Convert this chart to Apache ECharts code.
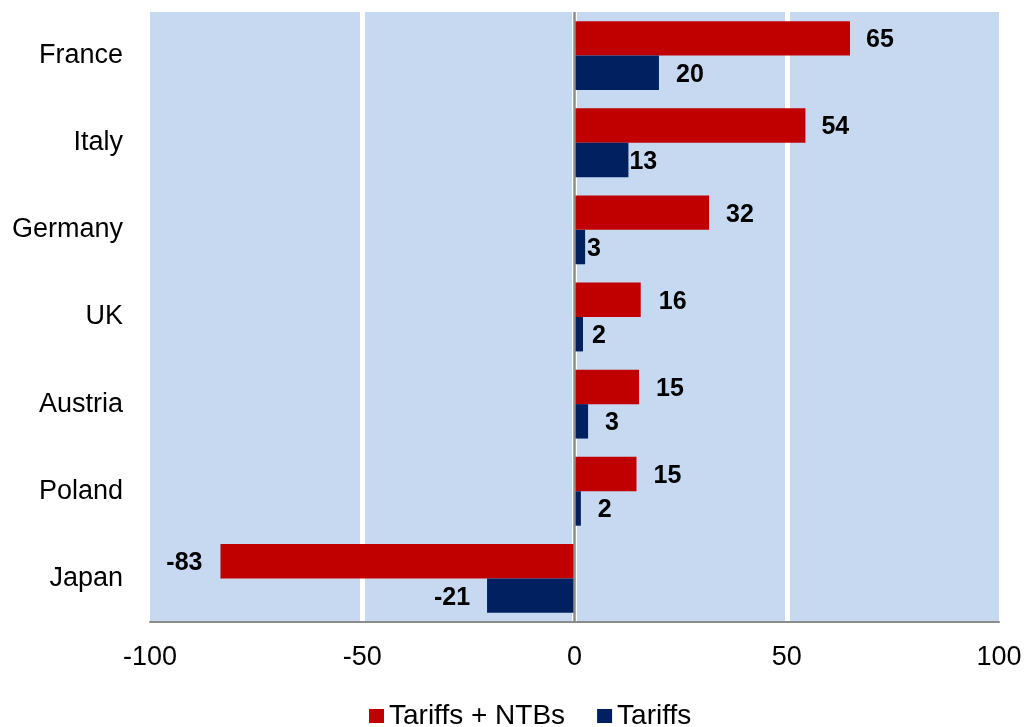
<!DOCTYPE html>
<html>
<head>
<meta charset="utf-8">
<script src="https://cdn.jsdelivr.net/npm/echarts@6/dist/echarts.min.js"></script>
<style>
  html, body { margin: 0; padding: 0; background: #fff; }
  #main { width: 1030px; height: 727px; }
</style>
</head>
<body>
<div id="main"></div>
<script>
var countries = ['France', 'Italy', 'Germany', 'UK', 'Austria', 'Poland', 'Japan'];
var tariffsNtbs = [64.9, 54.4, 31.7, 15.6, 15.2, 14.6, -83.4];
var tariffs = [19.9, 12.7, 2.5, 2.0, 3.2, 1.5, -20.6];
var xTicks = [-100, -50, 0, 50, 100];

// label gaps as placed in the original
var redGap = [16, 16, 17, 18, 17, 17, 18];
var blueGap = [17, 1, 2, 9, 17, 17, 17];

function buildData(values, gaps) {
  return values.map(function (v, i) {
    return {
      value: v,
      label: { position: v < 0 ? 'left' : 'right', distance: gaps[i] }
    };
  });
}

var chart = echarts.init(document.getElementById('main'));

var labelStyle = {
  show: true,
  color: '#000',
  fontFamily: 'Liberation Sans, Arial, sans-serif',
  fontWeight: 'bold',
  fontSize: 25,
  offset: [0, 2],
  formatter: function (p) { return Math.round(p.value); }
};

var option = {
  animation: false,
  grid: {
    left: 150,
    right: 31,
    top: 12,
    bottom: 105,
    show: true,
    backgroundColor: '#C6D9F1',
    borderWidth: 0
  },
  legend: {
    left: 364,
    top: 697,
    itemWidth: 15,
    itemHeight: 14,
    itemGap: 32,
    icon: 'rect',
    textStyle: {
      fontFamily: 'Liberation Sans, Arial, sans-serif',
      fontSize: 28,
      color: '#000'
    },
    data: ['Tariffs + NTBs', 'Tariffs']
  },
  xAxis: {
    type: 'value',
    min: xTicks[0],
    max: xTicks[xTicks.length - 1],
    interval: 50,
    axisLine: { show: true, lineStyle: { color: '#8c8c8c', width: 2 } },
    axisTick: { show: false },
    axisLabel: {
      margin: 22,
      fontFamily: 'Liberation Sans, Arial, sans-serif',
      fontSize: 27,
      color: '#000'
    },
    splitLine: {
      show: true,
      showMinLine: false,
      showMaxLine: false,
      lineStyle: { color: '#ffffff', width: 5 }
    }
  },
  yAxis: {
    type: 'category',
    inverse: true,
    data: countries,
    axisLine: { show: false },
    axisTick: { show: false },
    axisLabel: {
      margin: 27,
      fontFamily: 'Liberation Sans, Arial, sans-serif',
      fontSize: 27,
      color: '#000'
    }
  },
  series: [
    {
      name: 'Tariffs + NTBs',
      type: 'bar',
      data: buildData(tariffsNtbs, redGap),
      barGap: '0%',
      barCategoryGap: '21%',
      itemStyle: { color: '#C00000' },
      label: labelStyle,
      markLine: {
        silent: true,
        symbol: 'none',
        label: { show: false },
        lineStyle: { color: '#8c8c8c', width: 2.5, type: 'solid' },
        data: [{ xAxis: 0 }]
      }
    },
    {
      name: 'Tariffs',
      type: 'bar',
      data: buildData(tariffs, blueGap),
      barGap: '0%',
      barCategoryGap: '21%',
      itemStyle: { color: '#002060' },
      label: labelStyle
    }
  ]
};

chart.setOption(option);
</script>
</body>
</html>
